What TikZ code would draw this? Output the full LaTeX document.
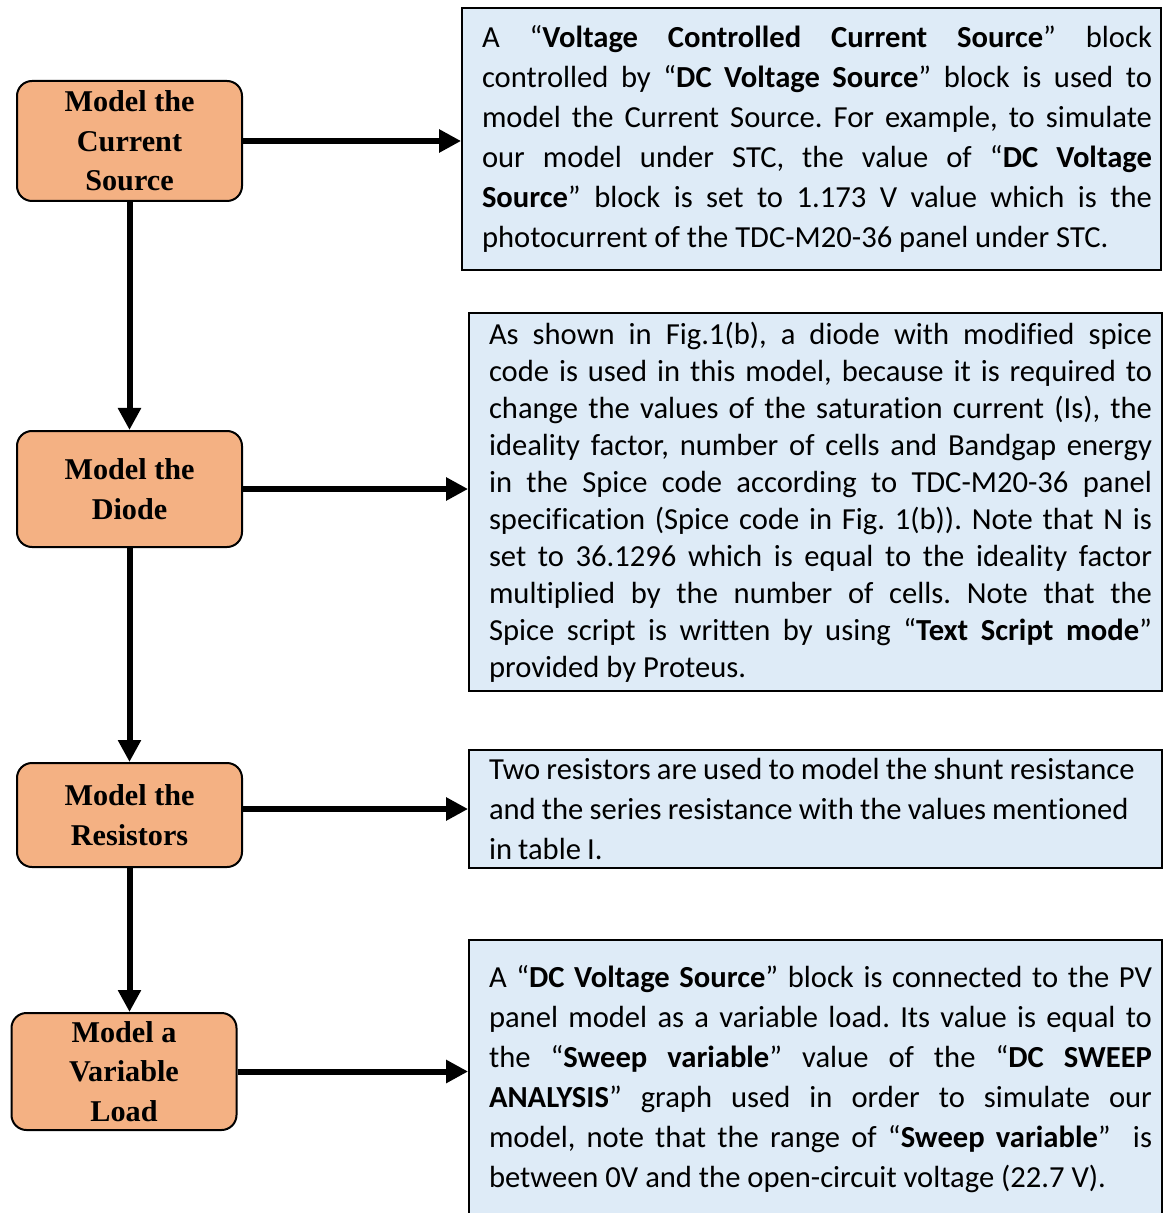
\documentclass[tikz,border=0pt]{standalone}
\usepackage{fontspec}
\setmainfont{Liberation Serif}
\newfontfamily\calibri[Ligatures=NoCommon]{Carlito}
\usetikzlibrary{arrows.meta,positioning}
\definecolor{stepfill}{HTML}{F4B183}
\definecolor{notefill}{HTML}{DEEBF7}

\begin{document}
\begin{tikzpicture}[x=0.5pt, y=-0.5pt,
		stage/.style={draw, line width=1pt, rounded corners=7.5pt, fill=stepfill, minimum width=112.5pt, inner sep=0pt, align=center, font=\fontsize{15.1}{19.8}\selectfont\bfseries},
		note/.style={draw, line width=0.9pt, fill=notefill, inner sep=0pt, text width=336.5pt, minimum width=346.5pt, align=justify, font=\calibri\fontsize{15.3}{20}\selectfont\frenchspacing, execute at begin node={\leftskip=5pt\hyphenpenalty=10000\exhyphenpenalty=10000}},
		flow/.style={line width=3pt, -{Triangle[length=11pt, width=11pt]}}]
		\useasboundingbox (0,0) rectangle (1163,1213);

		% steps on the left
		\node [stage, minimum height=60pt] (current) at (129.5,141) {Model the\\Current\\Source};
		\node [stage, minimum height=58pt] (diode) at (129.5,489) {Model the\\Diode};
		\node [stage, minimum height=52pt] (resistor) at (129.5,815) {Model the\\Resistors};
		\node [stage, minimum height=58.5pt] (load) at (124,1071.5) {Model a\\Variable\\Load};

		% explanations on the right
		\node [note, text width=340.5pt, minimum width=349.5pt, minimum height=131pt, execute at begin node={\leftskip=5.5pt}] (currentnote) at (811.5,139) {A “\textbf{Voltage Controlled Current Source}” block\linebreak
			controlled by “\textbf{DC Voltage Source}” block is used to\linebreak
			model the Current Source. For example, to simulate\linebreak
			our model under STC, the value of “\textbf{DC Voltage\linebreak
			Source}” block is set to 1.173 V value which is the\linebreak
			photocurrent of the TDC-M20-36 panel under STC.};
		\node [note, minimum height=189pt, font=\calibri\fontsize{15.3}{18.5}\selectfont\frenchspacing] (diodenote) at (815.5,502) {As shown in Fig.1(b), a diode with modified spice\linebreak
			code is used in this model, because it is required to\linebreak
			change the values of the saturation current (Is), the\linebreak
			ideality factor, number of cells and Bandgap energy\linebreak
			in the Spice code according to TDC-M20-36 panel\linebreak
			specification (Spice code in Fig. 1(b)). Note that N is\linebreak
			set to 36.1296 which is equal to the ideality factor\linebreak
			multiplied by the number of cells. Note that the\linebreak
			Spice script is written by using “\textbf{Text Script mode}”\linebreak
			provided by Proteus.};
		\node [note, minimum height=59pt, align=left, execute at begin node={\spaceskip=0.2em plus 0.05em minus 0.05em}] (resistornote) at (815.5,809) {Two resistors are used to model the shunt resistance\\
			and the series resistance with the values mentioned\\
			in table I.};
		\node [note, minimum height=139pt] (loadnote) at (815.5,1079) {A “\textbf{DC Voltage Source}” block is connected to the PV\linebreak
			panel model as a variable load. Its value is equal to\linebreak
			the “\textbf{Sweep variable}” value of the “\textbf{DC SWEEP\linebreak
			ANALYSIS}” graph used in order to simulate our\linebreak
			model, note that the range of “\textbf{Sweep variable}”\ \ is\linebreak
			between 0V and the open-circuit voltage (22.7 V).};

		% flow down the steps
		\draw [flow] (current.south) -- (diode.north);
		\draw [flow] (diode.south) -- (resistor.north);
		\draw [flow] (resistor.south) -- (resistor.south |- load.north);

		% each step to its note
		\draw [flow] (current.east) -- (current.east -| currentnote.west);
		\draw [flow] (diode.east) -- (diode.east -| diodenote.west);
		\draw [flow] ([yshift=3pt]resistor.east) -- ([yshift=3pt]resistor.east -| resistornote.west);
		\draw [flow] (load.east) -- (load.east -| loadnote.west);
	\end{tikzpicture}
\end{document}
